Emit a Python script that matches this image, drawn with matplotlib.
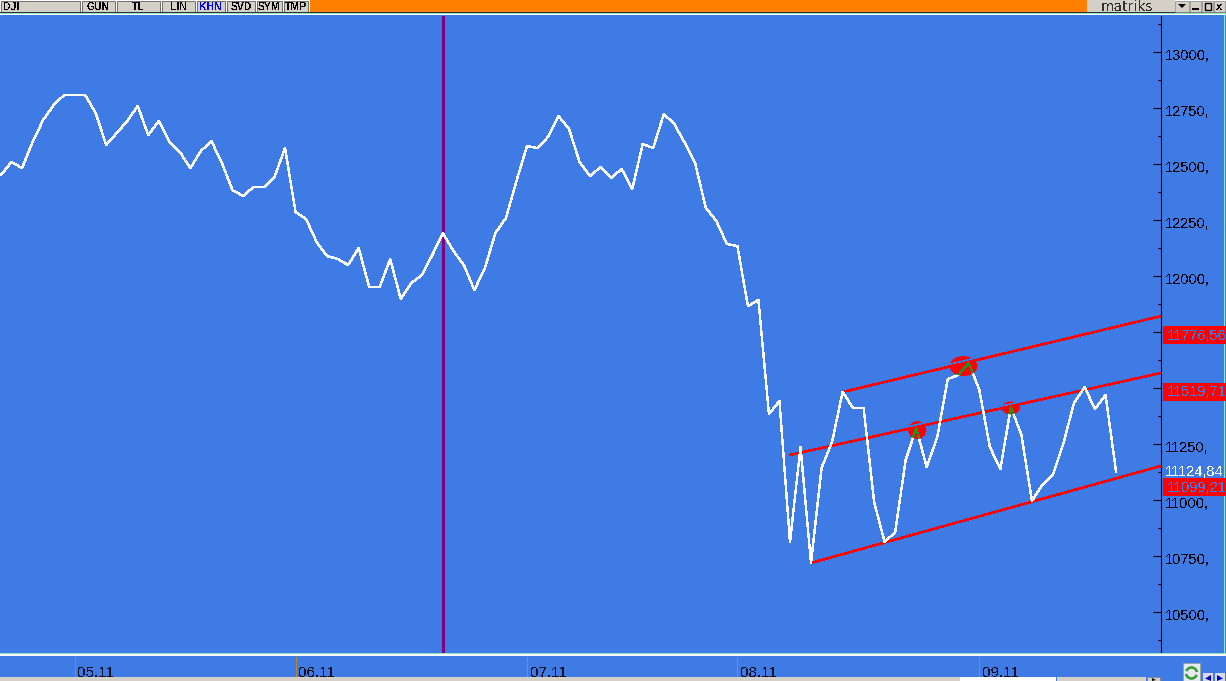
import matplotlib
matplotlib.use('Agg')
import matplotlib.pyplot as plt
from matplotlib.patches import Rectangle, Ellipse, Arc, Polygon
from matplotlib.transforms import ScaledTranslation

plt.rcParams['font.family'] = ['Liberation Sans', 'DejaVu Sans']
plt.rcParams['text.antialiased'] = False

W, H = 1226, 681

# DJI close
closes = [12451, 12509, 12482, 12598, 12696, 12763, 12808, 12808, 12808, 12728,
          12585, 12638, 12692, 12759, 12629, 12692, 12598, 12554, 12482, 12558,
          12603, 12504, 12384, 12357, 12397, 12397, 12442, 12571, 12286, 12254,
          12152, 12089, 12076, 12049, 12125, 11951, 11951, 12076, 11897, 11969,
          12004, 12094, 12192, 12112, 12049, 11937, 12036, 12192, 12259, 12424,
          12580, 12571, 12621, 12714, 12656, 12509, 12446, 12487, 12438, 12478,
          12388, 12589, 12571, 12723, 12679, 12594, 12500, 12304, 12246, 12143,
          12134, 11866, 11893, 11384, 11442, 10812, 11237, 10719, 11143, 11259,
          11482, 11411, 11411, 10991, 10812, 10857, 11179, 11321, 11147, 11281,
          11540, 11558, 11612, 11491, 11237, 11138, 11415, 11290, 10996, 11067,
          11112, 11254, 11433, 11504, 11406, 11469, 11125]

# trend channel: start index, start value, end value at right edge
upper_line = [80, 11482, 11821]
middle_line = [75, 11201, 11567]
lower_line = [77, 10719, 11152]

# marked touches: index, value, width in bars, height in points
touches = [[91.5, 11598, 2.66, 89], [87.1, 11312, 1.71, 80], [96.0, 11411, 1.71, 58]]

date_idx = [7, 28, 50, 70, 93]
date_labels = ['05.11', '06.11', '07.11', '08.11', '09.11']
cursor_idx = 42

y_major = list(range(10500, 13001, 250))
y_minor = list(range(10375, 13126, 250))
# 11500 and 11750 sit under the red flags
y_hidden = [11500, 11750]

side_labels = ['11776,56', '11519,71', '11099,21']
side_tops = [326, 383, 478]
last_label = '11124,84'

buttons = ['DJI', 'GUN', 'TL', 'LIN', 'KHN', 'SVD', 'SYM', 'TMP']
button_edges = [0, 81, 116, 161, 196, 226, 256, 283, 309]

BLUE = '#3F7BE4'
RED = '#FF0000'
GREY = '#D4D0C8'
FRAME = '#8CE8C8'

fig = plt.figure(figsize=(W / 100, H / 100), dpi=100, facecolor=BLUE)


def box(left, top, right, bottom):
    return [left / W, 1 - bottom / H, (right - left) / W, (bottom - top) / H]


ax = fig.add_axes(box(0, 16, 1161, 653), facecolor=BLUE)
ax.set_xlim(-0.095, 110.27)
ax.set_ylim(13000 - 637 * 4.4643 + 36 * 4.4643, 13000 + 36 * 4.4643)
x_right = ax.get_xlim()[1]

for name in ['top', 'left', 'bottom']:
    ax.spines[name].set_visible(False)
ax.spines['right'].set_linewidth(0.8)
ax.spines['right'].set_color('black')

ax.set_xticks([])
ax.set_yticks(y_major)
ax.set_yticks(y_minor, minor=True)
ax.set_yticklabels(['' if v in y_hidden else str(v) + ',' for v in y_major])
ax.tick_params(axis='y', which='major', left=False, right=True, labelleft=False,
               labelright=True, direction='in', length=6, width=0.8, pad=3,
               labelsize=10.5, colors='black')
ax.tick_params(axis='y', which='minor', left=False, right=True, direction='in',
               length=2.2, width=0.8, color='black')
# labels hang a little below their ticks
label_shift = ScaledTranslation(0, -3 / 100, fig.dpi_scale_trans)
for lab in ax.get_yticklabels():
    lab.set_transform(lab.get_transform() + label_shift)

ax.axvline(cursor_idx, color='#800080', lw=1.0, zorder=2, antialiased=False)

# red blobs, then the lines over them
blobs = []
for t in touches:
    e = Ellipse((t[0], t[1]), t[2], t[3], facecolor=RED, edgecolor='none', zorder=3)
    ax.add_patch(e)
    blobs.append(e)

channels = [upper_line, middle_line, lower_line]
for c in channels:
    ax.plot([c[0], x_right], [c[1], c[2]], color=RED, lw=1.1, zorder=5,
            antialiased=False, solid_capstyle='butt')

# blue gap that runs just above the channel line inside each blob
shift = ax.transData + ScaledTranslation(0, 2 / 100, fig.dpi_scale_trans)
for e, c in zip(blobs, [upper_line, middle_line, middle_line]):
    gap, = ax.plot([c[0], x_right], [c[1], c[2]], color=BLUE, lw=0.7, zorder=4,
                   antialiased=False, transform=shift)
    gap.set_clip_path(e)

ax.plot(range(len(closes)), closes, color='white', lw=1.0, zorder=6, antialiased=False)

# series turns green where it passes over red
for e in blobs:
    g, = ax.plot(range(len(closes)), closes, color='#2E8B1E', lw=1.0, zorder=7,
                 antialiased=False)
    g.set_clip_path(e)

# date strip
dax = fig.add_axes(box(0, 657, 1226, 677), facecolor=BLUE)
dax.set_xlim(-0.095, -0.095 + 1226 / 10.52)
dax.set_ylim(0, 1)
dax.axis('off')
for i, lab in zip(date_idx, date_labels):
    dax.axvline(i, color='#B8862B', lw=0.6, antialiased=False)
    dax.annotate(lab, (i, 1), xytext=(2.2, -6.5), textcoords='offset points', fontsize=11,
                 color='#101020', va='top', ha='left', annotation_clip=False, clip_on=True)

# window furniture, in screen pixels
ui = fig.add_axes([0, 0, 1, 1], facecolor='none')
ui.set_xlim(0, W)
ui.set_ylim(H, 0)
ui.axis('off')


def rect(left, top, right, bottom, color, **kw):
    ui.add_patch(Rectangle((left, top), right - left, bottom - top, facecolor=color,
                           edgecolor=kw.pop('edge', 'none'), linewidth=kw.pop('lw', 0.8), **kw))


rect(0, 0, W, 12, 'white')
rect(310, 0, 1087, 12, '#FF8000')
for i, lab in enumerate(buttons):
    rect(button_edges[i] + 1, 1, button_edges[i + 1] - 1, 12, GREY, edge='#404040', lw=0.5)
    col = '#0000FF' if lab == 'KHN' else 'black'
    if lab == 'DJI':
        ui.text(3, 7, lab, fontsize=7.5, fontweight='bold', va='center', ha='left', color=col)
    else:
        ui.text((button_edges[i] + button_edges[i + 1]) / 2, 7, lab, fontsize=7.5,
                fontweight='bold', va='center', ha='center', color=col)

rect(0, 12, W, 13, '#303030')
rect(0, 13, W, 14, FRAME)
rect(0, 14, W, 15, 'white')

rect(1087, 0, 1175, 12, GREY)
ui.text(1127, 7, 'matriks', fontsize=10, family='DejaVu Sans', color='#303030',
        va='center', ha='center')
rect(1175, 1, 1189, 12, GREY, edge='#808080', lw=0.5)
ui.add_patch(Polygon([[1178, 4], [1186, 4], [1182, 8]], facecolor='black'))
rect(1190, 1, 1201, 12, GREY, edge='#808080', lw=0.5)
rect(1192, 8, 1199, 10, 'black')
rect(1202, 1, 1213, 12, GREY, edge='#808080', lw=0.5)
rect(1205, 3, 1211, 10, 'none', edge='black', lw=1)
rect(1214, 1, 1225, 12, GREY, edge='#808080', lw=0.5)
ui.text(1219.5, 6.5, 'x', fontsize=8, fontweight='bold', va='center', ha='center')

rect(1224, 14, 1225, 653, FRAME)
rect(0, 653, W, 654, FRAME)
rect(0, 654, W, 656, 'white')

# red value flags at the right
for lab, top in zip(side_labels, side_tops):
    rect(1163, top, W, top + 18, RED)
    ui.text(1167, top + 9.5, lab, fontsize=10.5, color=BLUE, va='center', ha='left',
            clip_on=True)
ui.text(1165, 472, last_label, fontsize=10.5, color='white', va='center', ha='left', clip_on=True)

# bottom strip
rect(0, 677, 1056, H, GREY)
rect(960, 677, 1056, H, 'white')
rect(1057, 677, 1146, H, GREY)
rect(1147, 677, 1160, H, GREY, edge='#808080', lw=0.5)
ui.add_patch(Polygon([[1152, 678], [1156, 680], [1152, 681]], facecolor='black'))
rect(1183, 663, 1200, H, '#E8E8F0', edge='#A0A0A0', lw=0.6)
ui.add_patch(Arc((1191.5, 673), 11, 11, theta1=200, theta2=350, color='#2E9E2E', lw=1.8))
ui.add_patch(Arc((1191.5, 673), 11, 11, theta1=20, theta2=170, color='#2E9E2E', lw=1.8))
rect(1203, 673, 1213, H, '#D8D8E8')
rect(1215, 673, 1225, H, '#D8D8E8')
ui.add_patch(Polygon([[1211, 675], [1205, 678.5], [1211, 681]], facecolor='#0000C0'))
ui.add_patch(Polygon([[1217, 675], [1223, 678.5], [1217, 681]], facecolor='#0000C0'))

fig.savefig('out.png', dpi=100, facecolor=BLUE)
